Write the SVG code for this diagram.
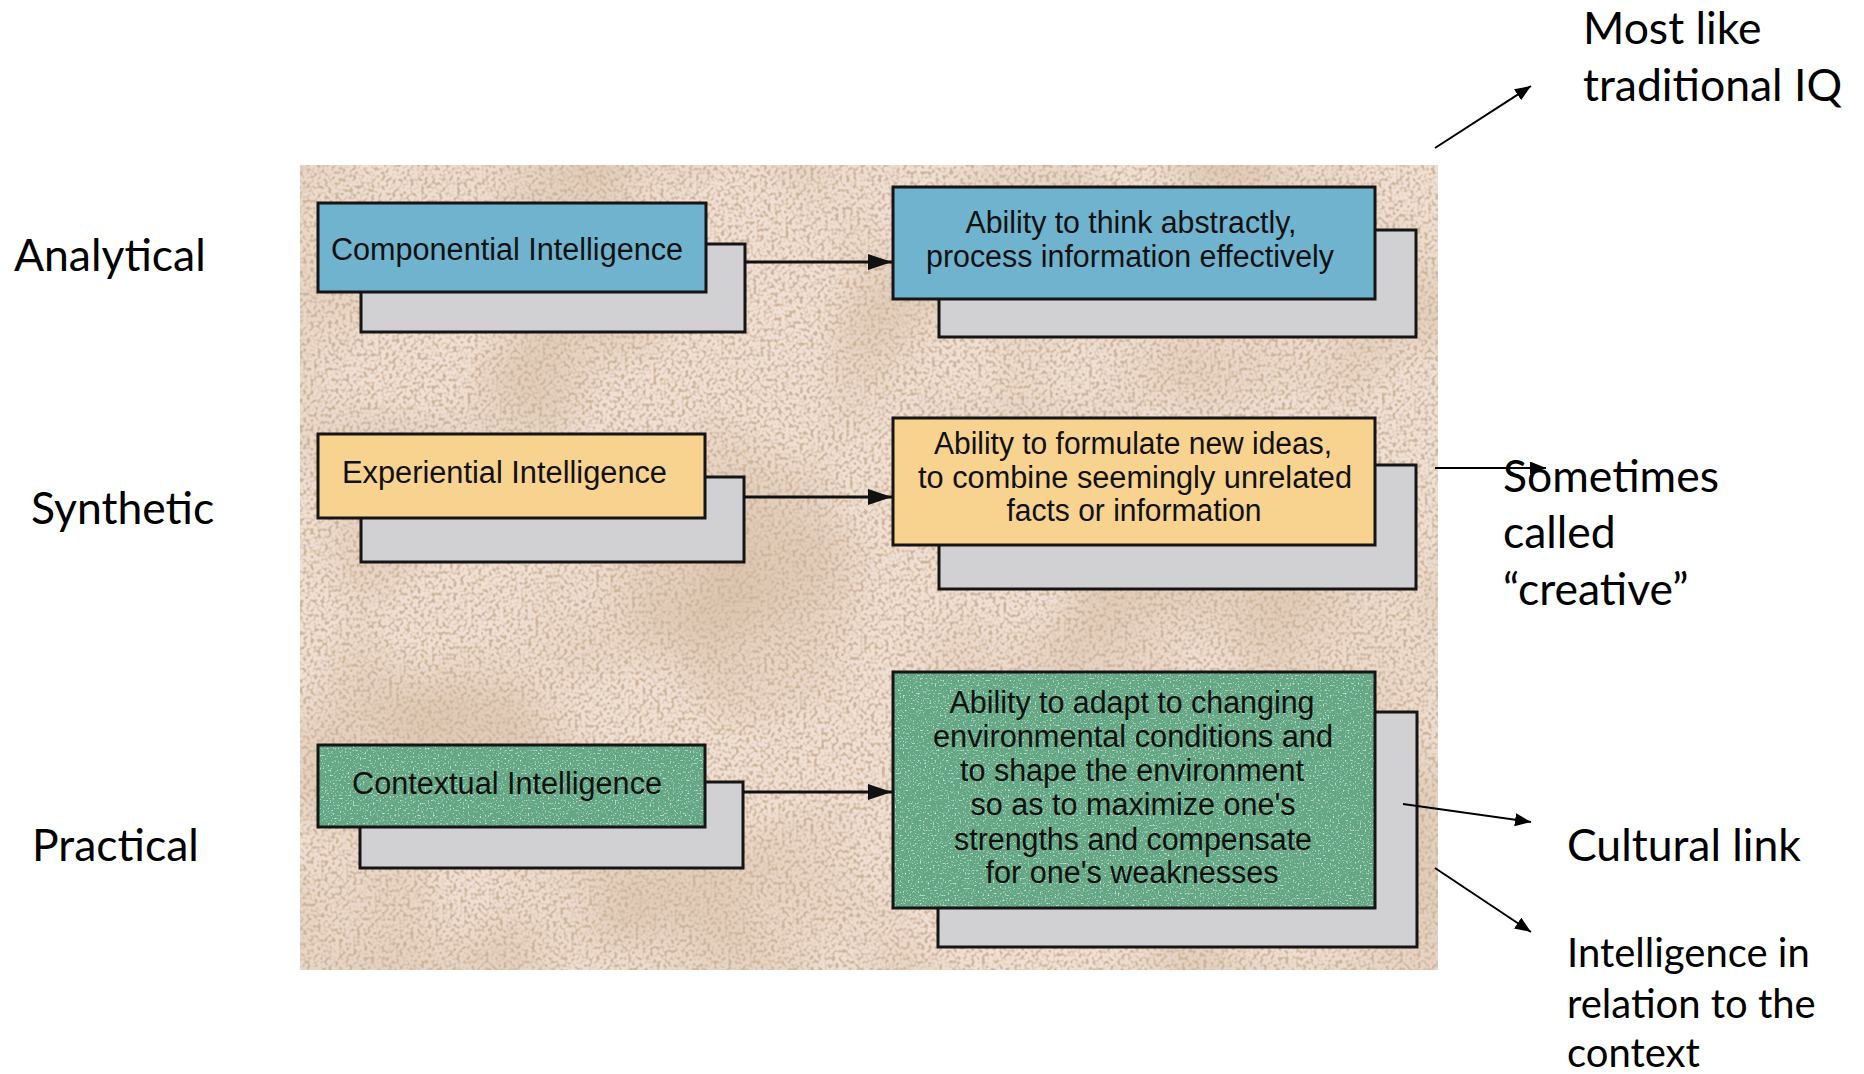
<svg xmlns="http://www.w3.org/2000/svg" width="1864" height="1074" viewBox="0 0 1864 1074">
<defs>
  <filter id="stipple" x="0" y="0" width="100%" height="100%">
    <feTurbulence type="fractalNoise" baseFrequency="0.006" numOctaves="2" seed="4" result="coarse"/>
    <feColorMatrix in="coarse" type="matrix" values="0 0 0 0 0.66  0 0 0 0 0.50  0 0 0 0 0.36  1.6 0 0 0 -0.62" result="patch"/>
    <feTurbulence type="fractalNoise" baseFrequency="0.28" numOctaves="1" seed="9" result="fine"/>
    <feColorMatrix in="fine" type="matrix" values="0 0 0 0 0.62  0 0 0 0 0.46  0 0 0 0 0.32  4 0 0 0 -1.8" result="brown"/>
    <feMerge><feMergeNode in="SourceGraphic"/><feMergeNode in="patch"/><feMergeNode in="brown"/></feMerge>
  </filter>
  <filter id="speck" x="0" y="0" width="100%" height="100%">
    <feTurbulence type="fractalNoise" baseFrequency="0.6" numOctaves="1" seed="5" result="n"/>
    <feColorMatrix in="n" type="matrix" values="0 0 0 0 0.75  0 0 0 0 0.92  0 0 0 0 0.86  4 0 0 0 -2.3" result="s"/>
    <feComposite in="s" in2="SourceAlpha" operator="in" result="sc"/>
    <feMerge><feMergeNode in="SourceGraphic"/><feMergeNode in="sc"/></feMerge>
  </filter>
  <marker id="bigArrow" markerUnits="userSpaceOnUse" markerWidth="24" markerHeight="16" refX="24" refY="8" orient="auto">
    <path d="M0,0 L24,8 L0,16 Z" fill="#111"/>
  </marker>
  <marker id="smallArrow" markerUnits="userSpaceOnUse" markerWidth="16" markerHeight="13" refX="16" refY="6.5" orient="auto">
    <path d="M0,0 L16,6.5 L0,13 Z" fill="#000"/>
  </marker>
</defs>
<style>
  .shadow { fill: #d1d0d3; stroke: #151515; stroke-width: 3; }
  .box { stroke: #151515; stroke-width: 3; }
  .edge { fill: none; stroke: #151515; stroke-width: 3; }
  .blue { fill: #6fb3cf; }
  .orange { fill: #f8d28f; }
  .green { fill: #63a784; }
  .bt { font-family: "Liberation Sans", Arial, sans-serif; font-size: 31px; fill: #111; }
  .mid { text-anchor: middle; }
  .lbl { font-family: Lato, "Open Sans", sans-serif; font-size: 44.5px; fill: #000; }
  .lbls { font-family: Lato, "Open Sans", sans-serif; font-size: 40px; fill: #000; }
  .conn { stroke: #111; stroke-width: 3; fill: none; }
  .note { stroke: #000; stroke-width: 2; fill: none; }
</style>
<rect x="0" y="0" width="1864" height="1074" fill="#ffffff"/>

<g id="panel">
  <rect x="300" y="165" width="1138" height="805" fill="#f0dfd3" filter="url(#stipple)"/>
</g>

<g id="node-componential">
  <rect class="shadow" x="361" y="244" width="384" height="88"/>
  <rect class="box blue" x="318" y="203" width="388" height="89"/>
  <text class="bt" x="331" y="260" textLength="352" lengthAdjust="spacingAndGlyphs">Componential Intelligence</text>
</g>
<g id="node-abstract">
  <rect class="shadow" x="939" y="230" width="477" height="107"/>
  <rect class="box blue" x="893" y="187" width="482" height="112"/>
  <text class="bt mid" x="1131" y="233" textLength="331" lengthAdjust="spacingAndGlyphs">Ability to think abstractly,</text>
  <text class="bt mid" x="1130" y="267" textLength="408" lengthAdjust="spacingAndGlyphs">process information effectively</text>
</g>

<g id="node-experiential">
  <rect class="shadow" x="361" y="477" width="383" height="85"/>
  <rect class="box orange" x="318" y="434" width="387" height="84"/>
  <text class="bt" x="342" y="483" textLength="325" lengthAdjust="spacingAndGlyphs">Experiential Intelligence</text>
</g>
<g id="node-ideas">
  <rect class="shadow" x="939" y="465" width="477" height="124"/>
  <rect class="box orange" x="893" y="418" width="482" height="127"/>
  <text class="bt mid" x="1133" y="454" textLength="398" lengthAdjust="spacingAndGlyphs">Ability to formulate new ideas,</text>
  <text class="bt mid" x="1135" y="488" textLength="434" lengthAdjust="spacingAndGlyphs">to combine seemingly unrelated</text>
  <text class="bt mid" x="1134" y="521" textLength="255" lengthAdjust="spacingAndGlyphs">facts or information</text>
</g>

<g id="node-contextual">
  <rect class="shadow" x="360" y="782" width="383" height="86"/>
  <rect class="green" x="318" y="745" width="387" height="82" filter="url(#speck)"/>
  <rect class="edge" x="318" y="745" width="387" height="82"/>
  <text class="bt" x="352" y="794" textLength="310" lengthAdjust="spacingAndGlyphs">Contextual Intelligence</text>
</g>
<g id="node-adapt">
  <rect class="shadow" x="938" y="712" width="479" height="235"/>
  <rect class="green" x="893" y="672" width="482" height="236" filter="url(#speck)"/>
  <rect class="edge" x="893" y="672" width="482" height="236"/>
  <text class="bt mid" x="1132" y="713" textLength="365" lengthAdjust="spacingAndGlyphs">Ability to adapt to changing</text>
  <text class="bt mid" x="1133" y="747" textLength="400" lengthAdjust="spacingAndGlyphs">environmental conditions and</text>
  <text class="bt mid" x="1132" y="781" textLength="344" lengthAdjust="spacingAndGlyphs">to shape the environment</text>
  <text class="bt mid" x="1133" y="815" textLength="325" lengthAdjust="spacingAndGlyphs">so as to maximize one's</text>
  <text class="bt mid" x="1133" y="850" textLength="358" lengthAdjust="spacingAndGlyphs">strengths and compensate</text>
  <text class="bt mid" x="1132" y="883" textLength="293" lengthAdjust="spacingAndGlyphs">for one's weaknesses</text>
</g>

<g id="labels-left">
  <text class="lbl" x="14" y="271">Analytical</text>
  <text class="lbl" x="31" y="524">Synthetic</text>
  <text class="lbl" x="32" y="861">Practical</text>
</g>
<g id="labels-right">
  <text class="lbl" x="1583" y="44">Most like</text>
  <text class="lbl" x="1583" y="101">traditional IQ</text>
  <text class="lbl" x="1503" y="492">Sometimes</text>
  <text class="lbl" x="1503" y="548">called</text>
  <text class="lbl" x="1503" y="605">“creative”</text>
  <text class="lbl" x="1567" y="861">Cultural link</text>
  <text class="lbls" x="1567" y="967">Intelligence in</text>
  <text class="lbls" x="1567" y="1018">relation to the</text>
  <text class="lbls" x="1567" y="1067">context</text>
</g>

<g id="connectors">
  <line class="conn" x1="745" y1="262" x2="892" y2="262" marker-end="url(#bigArrow)"/>
  <line class="conn" x1="744" y1="497" x2="892" y2="497" marker-end="url(#bigArrow)"/>
  <line class="conn" x1="743" y1="792" x2="892" y2="792" marker-end="url(#bigArrow)"/>
  <line class="note" x1="1435" y1="148" x2="1531" y2="86" marker-end="url(#smallArrow)"/>
  <line class="note" x1="1435" y1="468" x2="1546" y2="468" marker-end="url(#smallArrow)"/>
  <line class="note" x1="1403" y1="804" x2="1531" y2="822" marker-end="url(#smallArrow)"/>
  <line class="note" x1="1435" y1="868" x2="1531" y2="932" marker-end="url(#smallArrow)"/>
</g>
</svg>
